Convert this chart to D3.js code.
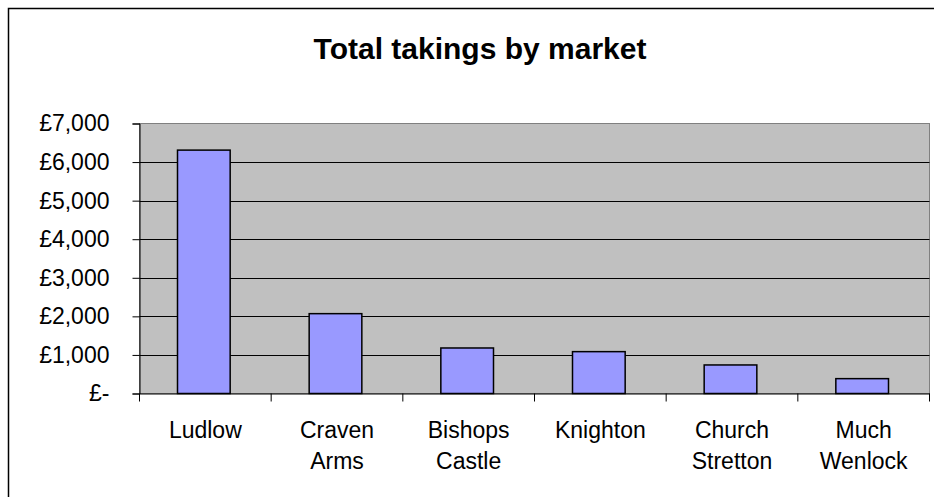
<!DOCTYPE html>
<html>
<head>
<meta charset="utf-8">
<script src="https://cdn.jsdelivr.net/npm/d3@7"></script>
<style>
  html, body { margin: 0; padding: 0; background: #fff; }
  svg { display: block; }
  text { font-family: "Liberation Sans", Arial, sans-serif; fill: #000; }
</style>
</head>
<body>
<svg id="chart" width="934" height="497"></svg>
<script>
const title = "Total takings by market";
const categories = ["Ludlow", "Craven Arms", "Bishops Castle", "Knighton", "Church Stretton", "Much Wenlock"];
const takings = [6310, 2070, 1180, 1085, 740, 385];
const yTicks = [0, 1000, 2000, 3000, 4000, 5000, 6000, 7000];

const svg = d3.select("#chart");
const W = 934, H = 497;
const plot = { left: 139.5, right: 929.5, top: 123.5, bottom: 393.5 };

// outer chart frame (right/bottom edges fall outside the window)
svg.append("rect")
  .attr("x", 8.5).attr("y", 8.5)
  .attr("width", W + 20).attr("height", H + 20)
  .attr("fill", "#fff").attr("stroke", "#000").attr("stroke-width", 1.5);

const x = d3.scaleBand().domain(categories)
  .range([plot.left, plot.right]).paddingInner(0.6).paddingOuter(0.3);
const xOuter = d3.scaleBand().domain(categories).range([plot.left, plot.right]).padding(0);
const y = d3.scaleLinear().domain([0, 7000]).range([plot.bottom, plot.top]);

// plot area
svg.append("rect")
  .attr("x", plot.left).attr("y", plot.top)
  .attr("width", plot.right - plot.left).attr("height", plot.bottom - plot.top)
  .attr("fill", "#c0c0c0").attr("stroke", "#808080").attr("stroke-width", 1);

// gridlines
svg.append("g").selectAll("line").data(yTicks.filter(d => d > 0 && d < 7000)).join("line")
  .attr("x1", plot.left).attr("x2", plot.right)
  .attr("y1", d => Math.round(y(d)) + 0.5).attr("y2", d => Math.round(y(d)) + 0.5)
  .attr("stroke", "#000").attr("stroke-width", 1);

// bars
svg.append("g").selectAll("rect").data(categories).join("rect")
  .attr("x", d => x(d) - 1.5)
  .attr("y", (d, i) => y(takings[i]))
  .attr("width", x.bandwidth())
  .attr("height", (d, i) => y(0) - y(takings[i]))
  .attr("fill", "#9999ff").attr("stroke", "#000").attr("stroke-width", 1.5);

// y axis
const fmt = d => d === 0 ? "£-" : "£" + d3.format(",")(d);
const yAxis = d3.axisLeft(y).tickValues(yTicks).tickFormat(fmt).tickSize(7).tickPadding(23);
const gy = svg.append("g").attr("transform", `translate(${plot.left},0)`).call(yAxis);
gy.select(".domain").attr("stroke", "#000").attr("stroke-width", 1);
gy.selectAll(".tick line").attr("stroke", "#000");
gy.selectAll(".tick text")
  .style("font-family", '"Liberation Sans", Arial, sans-serif')
  .style("font-size", "23px").attr("fill", "#000");

// x axis
const xAxis = d3.axisBottom(xOuter).tickSize(0).tickFormat("");
const gx = svg.append("g").attr("transform", `translate(0,${plot.bottom})`).call(xAxis);
gx.select(".domain").attr("stroke", "#000").attr("stroke-width", 1);
gx.selectAll(".tick").remove();
// category boundary ticks
const bounds = categories.map(c => xOuter(c)).concat([plot.right]);
gx.append("g").selectAll("line").data(bounds).join("line")
  .attr("x1", d => d).attr("x2", d => d)
  .attr("y1", 0).attr("y2", 8)
  .attr("stroke", "#000").attr("stroke-width", 1);

// category labels
const labels = svg.append("g");
categories.forEach(c => {
  const parts = c.split(" ");
  const t = labels.append("text")
    .attr("text-anchor", "middle")
    .attr("font-size", "23px")
    .attr("x", xOuter(c) + xOuter.bandwidth() / 2);
  parts.forEach((p, i) => {
    t.append("tspan").attr("x", xOuter(c) + xOuter.bandwidth() / 2)
      .attr("y", 437.5 + i * 31).text(p);
  });
});

// title
svg.append("text")
  .attr("x", 480).attr("y", 59)
  .attr("text-anchor", "middle")
  .attr("font-size", "30px").attr("font-weight", "bold")
  .text(title);
</script>
</body>
</html>
